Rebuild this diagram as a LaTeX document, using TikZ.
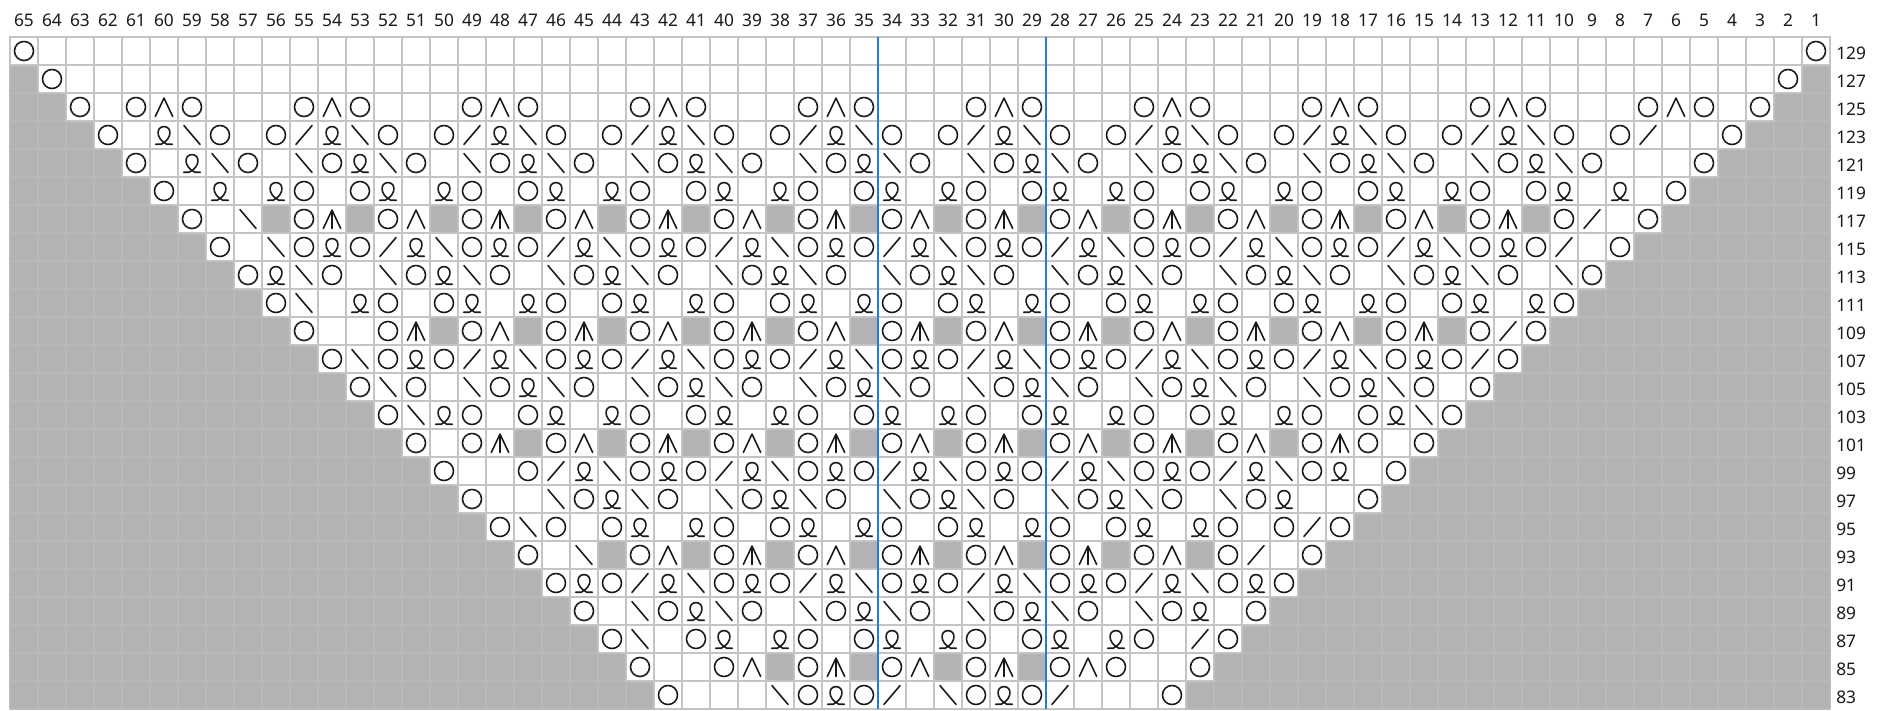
\documentclass[tikz,border=0pt]{standalone}
\usepackage{fontspec}
\setmainfont{Noto Sans}
\usepackage{xcolor}
\definecolor{chartGray}{HTML}{B3B3B3}
\definecolor{shadeLine}{HTML}{B9B9B9}
\definecolor{gridGray}{HTML}{C4C4C4}
\definecolor{repBlue}{HTML}{1F7FD6}
\definecolor{inkBlack}{HTML}{1A1A1A}
% one chart row: #1 = row index from the top, #2 = stitches from its first white cell
\newcommand{\chartrow}[2]{%
  \foreach \s [count=\i from 0] in {#2}
    {\pic at (#1+\i+0.5,-#1-0.5) {st-\s};}}

\begin{document}
\begin{tikzpicture}[x=0.5cm,y=0.5cm]
  \tikzset{
    sym/.style={draw=inkBlack,line width=0.8pt,line cap=round,line join=round},
    cell/.style={draw=gridGray,fill=white,line width=0.75pt},
    collabel/.style={font=\fontsize{8.8}{10}\selectfont,text=inkBlack,inner sep=0pt},
    rowlabel/.style={font=\fontsize{8.8}{10}\selectfont,text=inkBlack,inner sep=0pt,anchor=west},
    st-k/.pic={},
    st-g/.pic={\fill[chartGray] (-0.474,-0.474) rectangle (0.474,0.474);},
    st-o/.pic={\draw[sym] (0,0) circle (0.34);},
    st-a/.pic={\draw[sym] (-0.31,-0.34) -- (0,0.32) -- (0.31,-0.34);},
    st-m/.pic={\draw[sym] (-0.31,-0.34) -- (0,0.32) -- (0.31,-0.34) (0,0.32) -- (0,-0.34);},
    st-b/.pic={\draw[sym] (-0.29,0.34) -- (0.29,-0.34);},
    st-f/.pic={\draw[sym] (-0.29,-0.34) -- (0.29,0.34);},
    st-q/.pic={\draw[sym] (-0.3,-0.33) -- (-0.1,-0.33) .. controls (0.32,-0.12) and (0.28,0.3) .. (0,0.3)
      .. controls (-0.28,0.3) and (-0.32,-0.12) .. (0.1,-0.33) -- (0.3,-0.33);}
  }
  \useasboundingbox (-0.357,-24.071) rectangle (67.25,1.321);
  \fill[white] (-0.357,-24.071) rectangle (67.25,1.321);

  \fill[chartGray] (0,0) rectangle (65,-24);
  \foreach \x in {0,...,65}
    {\draw[shadeLine,line width=0.75pt] (\x,0) -- (\x,-24);}
  \foreach \y in {0,...,24}
    {\draw[shadeLine,line width=0.75pt] (0,-\y) -- (65,-\y);}
  \foreach \r in {0,...,23}
    {\foreach \x in {\r,...,\numexpr64-\r\relax}
      {\draw[cell] (\x,-\r) rectangle ++(1,-1);}}

  \chartrow{0}{o, k,k,k,k,k,k,k,k,k,k, k,k,k,k,k,k,k,k,k,k, k,k,k,k,k,k,k,k,k,k,
    k,k,k,k,k,k,k,k,k,k, k,k,k,k,k,k,k,k,k,k, k,k,k,k,k,k,k,k,k,k, k,k,k, o}
  \chartrow{1}{o, k,k,k,k,k,k,k,k,k,k, k,k,k,k,k,k,k,k,k,k, k,k,k,k,k,k,k,k,k,k,
    k,k,k,k,k,k,k,k,k,k, k,k,k,k,k,k,k,k,k,k, k,k,k,k,k,k,k,k,k,k, k, o}
  \chartrow{2}{o,k, o,a,o,k,k,k, o,a,o,k,k,k, o,a,o,k,k,k, o,a,o,k,k,k, o,a,o,k,k,k,
    o,a,o,k,k,k, o,a,o,k,k,k, o,a,o,k,k,k, o,a,o,k,k,k, o,a,o,k,o}
  \chartrow{3}{o,k,q,b,o,k, o,f,q,b,o,k, o,f,q,b,o,k, o,f,q,b,o,k, o,f,q,b,o,k,
    o,f,q,b,o,k, o,f,q,b,o,k, o,f,q,b,o,k, o,f,q,b,o,k, o,f,k,k,o}
  \chartrow{4}{o,k,q,b,o,k, b,o,q,b,o,k, b,o,q,b,o,k, b,o,q,b,o,k, b,o,q,b,o,k,
    b,o,q,b,o,k, b,o,q,b,o,k, b,o,q,b,o,k, b,o,q,b,o,k, k,k,o}
  \chartrow{5}{o,k,q,k, q,o,k,o,q,k, q,o,k,o,q,k, q,o,k,o,q,k, q,o,k,o,q,k,
    q,o,k,o,q,k, q,o,k,o,q,k, q,o,k,o,q,k, q,o,k,o,q,k, q,k,o}
  \chartrow{6}{o,k,b,g, o,m,g,o,a,g, o,m,g,o,a,g, o,m,g,o,a,g, o,m,g,o,a,g,
    o,m,g,o,a,g, o,m,g,o,a,g, o,m,g,o,a,g, o,m,g,o,f,k,o}
  \chartrow{7}{o,k,b, o,q,o,f,q,b, o,q,o,f,q,b, o,q,o,f,q,b, o,q,o,f,q,b,
    o,q,o,f,q,b, o,q,o,f,q,b, o,q,o,f,q,b, o,q,o,f,k,o}
  \chartrow{8}{o,q,b,o,k, b,o,q,b,o,k, b,o,q,b,o,k, b,o,q,b,o,k, b,o,q,b,o,k,
    b,o,q,b,o,k, b,o,q,b,o,k, b,o,q,b,o,k, b,o}
  \chartrow{9}{o,b,k, q,o,k,o,q,k, q,o,k,o,q,k, q,o,k,o,q,k, q,o,k,o,q,k,
    q,o,k,o,q,k, q,o,k,o,q,k, q,o,k,o,q,k, q,o}
  \chartrow{10}{o,k,k, o,m,g,o,a,g, o,m,g,o,a,g, o,m,g,o,a,g, o,m,g,o,a,g,
    o,m,g,o,a,g, o,m,g,o,a,g, o,m,g,o,f,o}
  \chartrow{11}{o,b, o,q,o,f,q,b, o,q,o,f,q,b, o,q,o,f,q,b, o,q,o,f,q,b,
    o,q,o,f,q,b, o,q,o,f,q,b, o,q,o,f,o}
  \chartrow{12}{o,b,o,k, b,o,q,b,o,k, b,o,q,b,o,k, b,o,q,b,o,k, b,o,q,b,o,k,
    b,o,q,b,o,k, b,o,q,b,o,k, o}
  \chartrow{13}{o,b,q,o,k, o,q,k,q,o,k, o,q,k,q,o,k, o,q,k,q,o,k, o,q,k,q,o,k,
    o,q,k,q,o,k, o,q,b,o}
  \chartrow{14}{o,k, o,m,g,o,a,g, o,m,g,o,a,g, o,m,g,o,a,g, o,m,g,o,a,g,
    o,m,g,o,a,g, o,m,o,k,o}
  \chartrow{15}{o,k,k, o,f,q,b,o,q, o,f,q,b,o,q, o,f,q,b,o,q, o,f,q,b,o,q,
    o,f,q,b,o,q, k,o}
  \chartrow{16}{o,k,k, b,o,q,b,o,k, b,o,q,b,o,k, b,o,q,b,o,k, b,o,q,b,o,k,
    b,o,q,k,k,o}
  \chartrow{17}{o,b,o,k, o,q,k,q,o,k, o,q,k,q,o,k, o,q,k,q,o,k, o,q,k,q,o,k, o,f,o}
  \chartrow{18}{o,k,b,g, o,a,g,o,m,g, o,a,g,o,m,g, o,a,g,o,m,g, o,a,g,o,f,k,o}
  \chartrow{19}{o,q,o,f,q,b, o,q,o,f,q,b, o,q,o,f,q,b, o,q,o,f,q,b, o,q,o}
  \chartrow{20}{o,k, b,o,q,b,o,k, b,o,q,b,o,k, b,o,q,b,o,k, b,o,q,k,o}
  \chartrow{21}{o,b,k, o,q,k,q,o,k, o,q,k,q,o,k, o,q,k,q,o,k, f,o}
  \chartrow{22}{o,k,k, o,a,g,o,m,g, o,a,g,o,m,g, o,a,o,k,k,o}
  \chartrow{23}{o,k,k,k,b,o,q,o,f,k,b,o,q,o,f,k,k,k,o}

  \draw[repBlue,line width=1.3pt] (31,0) -- (31,-24);
  \draw[repBlue,line width=1.3pt] (37,0) -- (37,-24);

  \foreach \c in {1,...,65}
    {\node[collabel] (col\c) at (65.5-\c,0.607) {\c};}
  \foreach \n [count=\r from 0] in {129,127,...,83}
    {\node[rowlabel] (row\n) at (65.21,-\r-0.57) {\n};}
\end{tikzpicture}
\end{document}
